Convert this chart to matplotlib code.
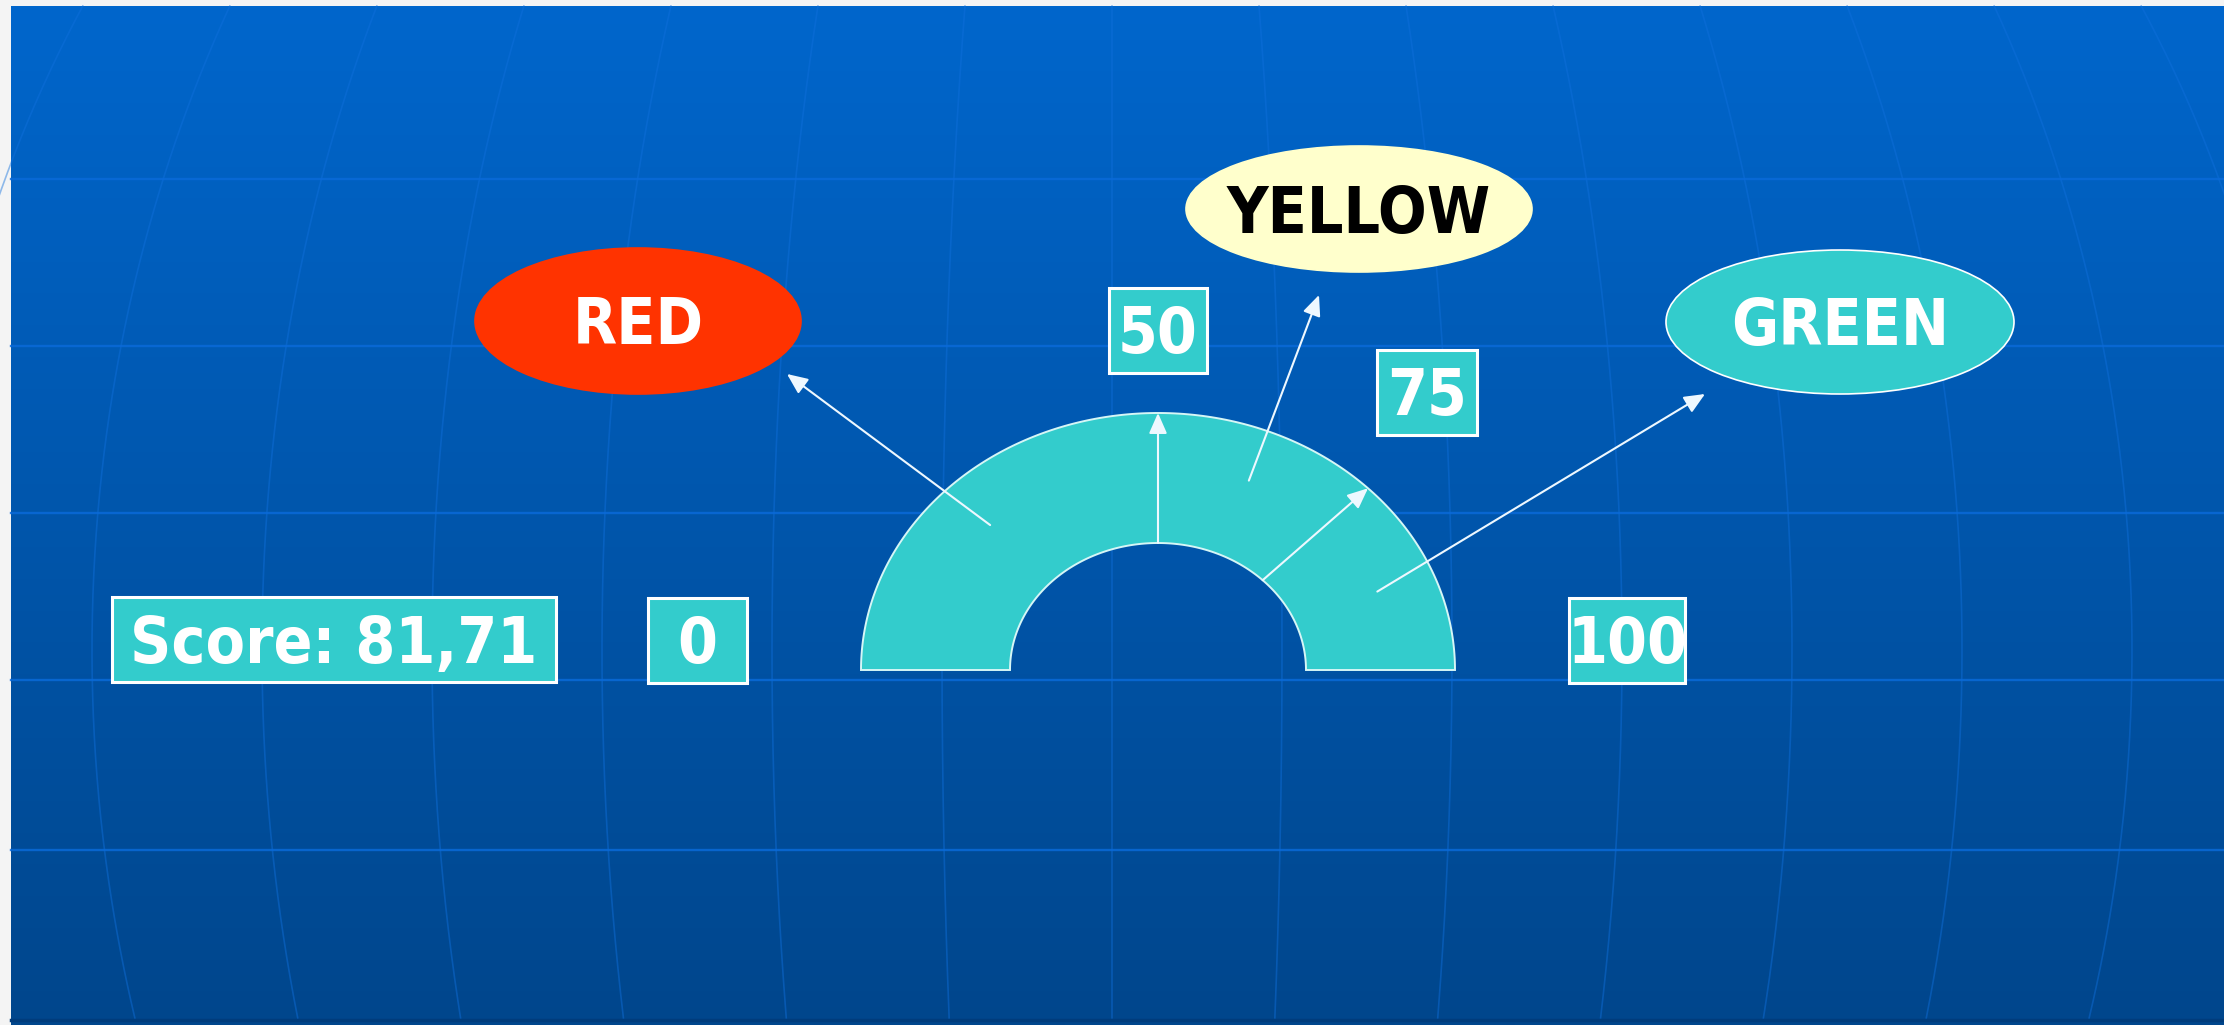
import numpy as np
import matplotlib.pyplot as plt
from matplotlib import font_manager
from matplotlib.patches import Ellipse, Rectangle, Polygon

W, H = 2224, 1025

# gauge data
score = 81.71
tick_values = [0, 50, 75, 100]
tick_labels = ["0", "50", "75", "100"]
zone_edges = [0, 50, 75, 100]
zone_names = ["RED", "YELLOW", "GREEN"]
zone_colors = ["#FF3300", "#FFFFCC", "#33CCCC"]
zone_text = ["white", "black", "white"]

# slide layout, in pixels (y grows downwards)
cx, cy = 1158, 670
outer_r = (297, 257)
inner_r = (148, 127)
tick_box_pos = [(697, 640), (1158, 330), (1427, 392), (1627, 640)]
tick_box_w = [99, 98, 100, 116]
box_h = 85
score_box = (112, 597, 444)
zone_ell = [(638, 321, 326, 146), (1359, 209, 346, 126), (1840, 322, 348, 144)]
zone_tips = [(787, 374), (1319, 295), (1705, 394)]

TURQ = "#33CCCC"


def gauge_xy(v, r):
    t = np.pi * (1 - np.asarray(v) / 100.0)
    return cx + r[0] * np.cos(t), cy - r[1] * np.sin(t)


# font: a condensed bold face is closest to the original Tahoma look
cond = [f.fname for f in font_manager.fontManager.ttflist
        if f.name.startswith("DejaVu Sans") and "Mono" not in f.name
        and f.stretch == "condensed" and f.weight in ("bold", 700) and f.style == "normal"]
if cond:
    fp = font_manager.FontProperties(fname=cond[0], size=46)
    cap = 47
else:
    fp = font_manager.FontProperties(family="DejaVu Sans", weight="bold", size=42)
    cap = 43

fig = plt.figure(figsize=(W / 100, H / 100), dpi=100, facecolor="#f4f4f4")
ax = fig.add_axes([0, 0, 1, 1])
ax.set_xlim(0, W)
ax.set_ylim(H, 0)
ax.axis("off")

# background gradient
top = np.array([0, 102, 204]) / 255
bot = np.array([0, 70, 140]) / 255
g = np.linspace(0, 1, 256)[:, None, None]
grad = top * (1 - g) + bot * g
ax.imshow(grad, extent=(11, W, H, 6), aspect="auto", zorder=0, interpolation="bilinear")

# globe grid
yy = np.linspace(6, 1018, 300)
for k in range(-7, 8):
    xx = 1112 + 170 * k * np.sqrt(1 - ((yy - 650) / 1283) ** 2)
    ax.plot(xx, yy, color="#1070dd", lw=1.2, alpha=0.45, zorder=1)
for y in [179, 346, 513, 680, 850]:
    ax.plot([11, W], [y, y], color="#0a6ad8", lw=1.7, alpha=0.85, zorder=1)
ax.plot([11, W], [1020, 1020], color="#003c7c", lw=2.5, zorder=1)

# gauge band
t = np.linspace(0, 100, 200)
ox, oy = gauge_xy(t, outer_r)
ix, iy = gauge_xy(t[::-1], inner_r)
band = Polygon(np.column_stack([np.r_[ox, ix], np.r_[oy, iy]]), closed=True,
               facecolor=TURQ, edgecolor="#d6f6f6", lw=1.4, zorder=3)
ax.add_patch(band)

ar = dict(color="#eef8ff", lw=1.5, shrinkA=0, shrinkB=0, mutation_scale=25,
          arrowstyle="-|>,head_length=0.5,head_width=0.22")

# tick arrows across the band (50 and 75)
for v in tick_values[1:3]:
    ax.annotate("", xy=gauge_xy(v, outer_r), xytext=gauge_xy(v, inner_r),
                arrowprops=ar, zorder=5)

# zone labels with arrows from the middle of each zone
mid_r = (inner_r[0] + 0.6 * (outer_r[0] - inner_r[0]), inner_r[1] + 0.6 * (outer_r[1] - inner_r[1]))
for i, name in enumerate(zone_names):
    vm = (zone_edges[i] + zone_edges[i + 1]) / 2
    ax.annotate("", xy=zone_tips[i], xytext=gauge_xy(vm, mid_r), arrowprops=ar, zorder=5)
    ex, ey, ew, eh = zone_ell[i]
    ec = "white" if name == "GREEN" else zone_colors[i]
    ax.add_patch(Ellipse((ex, ey), ew, eh, facecolor=zone_colors[i], edgecolor=ec,
                         lw=1.2, zorder=6))
    ax.text(ex, ey + cap / 2, name, ha="center", va="baseline", color=zone_text[i],
            fontproperties=fp, zorder=7)

# tick value boxes
for (bx, by), bw, lab in zip(tick_box_pos, tick_box_w, tick_labels):
    ax.add_patch(Rectangle((bx - bw / 2, by - box_h / 2), bw, box_h, facecolor=TURQ,
                           edgecolor="white", lw=2.2, zorder=6))
    ax.text(bx, by + cap / 2, lab, ha="center", va="baseline", color="white",
            fontproperties=fp, zorder=7)

# score box
sx, sy, sw = score_box
ax.add_patch(Rectangle((sx, sy), sw, box_h, facecolor=TURQ, edgecolor="white",
                       lw=2.2, zorder=6))
ax.text(sx + sw / 2, sy + box_h / 2 + cap / 2, "Score: " + f"{score:.2f}".replace(".", ","),
        ha="center", va="baseline", color="white", fontproperties=fp, zorder=7)

fig.savefig("out.png", dpi=100, facecolor=fig.get_facecolor())
